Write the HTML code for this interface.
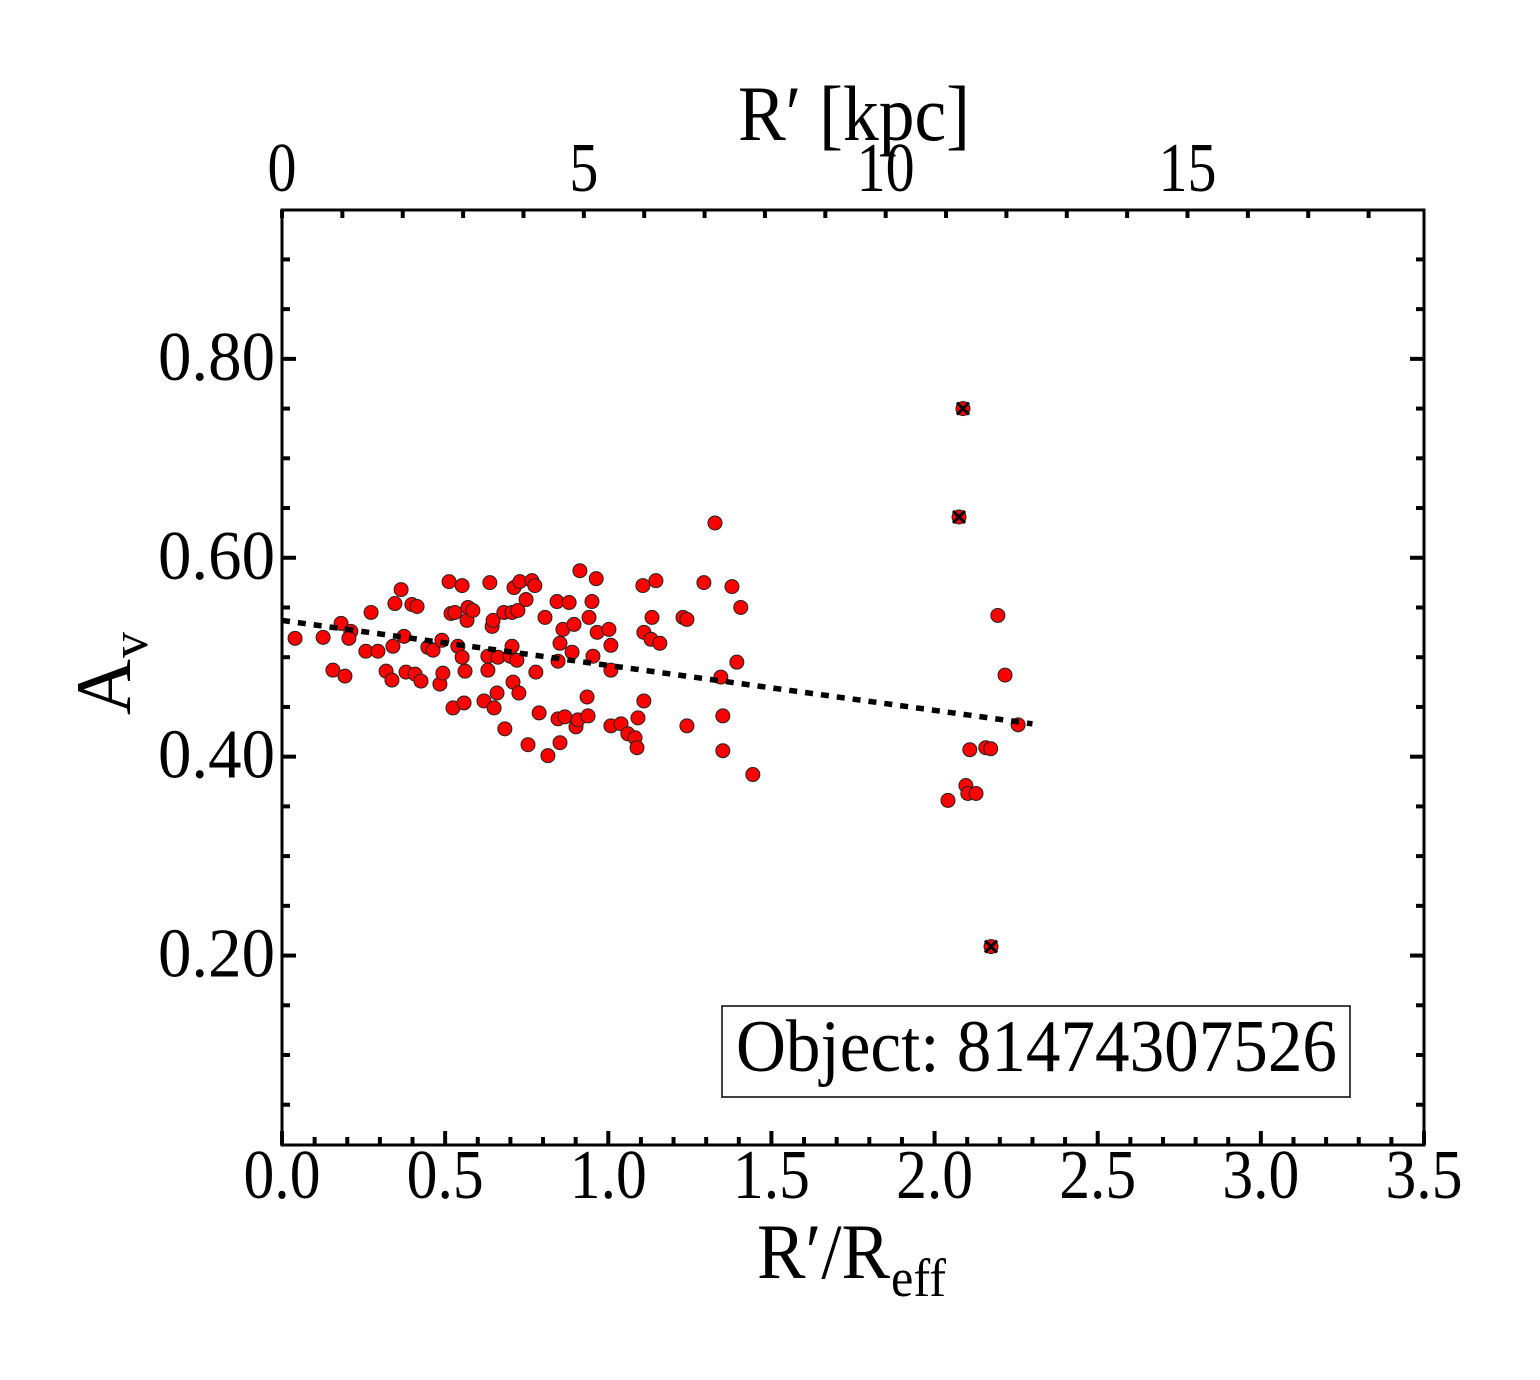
<!DOCTYPE html>
<html><head><meta charset="utf-8"><style>
html,body{margin:0;padding:0;background:#fff;}
svg text{font-family:"Liberation Serif",serif;fill:#000;}
</style></head><body>
<svg id="chart" width="1540" height="1375" viewBox="0 0 1540 1375" xmlns="http://www.w3.org/2000/svg">
<rect x="0" y="0" width="1540" height="1375" fill="#fff"/>
<g id="marks"></g>
<g id="axes"></g>
</svg>
<script>
const xs = [0.04,0.126,0.181,0.211,0.205,0.156,0.193,0.273,0.257,0.294,0.319,0.337,0.340,0.346,0.365,0.374,0.380,0.398,0.414,0.408,0.426,0.447,0.463,0.484,0.490,0.493,0.512,0.518,0.530,0.524,0.539,0.552,0.552,0.558,0.561,0.567,0.570,0.585,0.619,0.631,0.631,0.637,0.644,0.647,0.650,0.659,0.662,0.680,0.683,0.699,0.705,0.705,0.708,0.711,0.720,0.723,0.729,0.726,0.748,0.754,0.766,0.775,0.778,0.788,0.806,0.815,0.843,0.846,0.846,0.852,0.852,0.861,0.867,0.880,0.889,0.895,0.901,0.907,0.913,0.935,0.938,0.941,0.950,0.953,0.963,0.966,1.002,1.008,1.008,1.008,1.039,1.060,1.082,1.091,1.088,1.106,1.109,1.109,1.134,1.131,1.146,1.158,1.229,1.241,1.241,1.293,1.327,1.345,1.351,1.351,1.379,1.394,1.406,1.443,2.041,2.096,2.102,2.108,2.127,2.157,2.172,2.194,2.216,2.256];
const ys = [0.519,0.520,0.534,0.526,0.519,0.487,0.481,0.545,0.506,0.506,0.486,0.477,0.511,0.554,0.568,0.521,0.485,0.553,0.551,0.483,0.476,0.510,0.507,0.473,0.517,0.484,0.576,0.544,0.545,0.449,0.511,0.572,0.500,0.454,0.486,0.537,0.550,0.547,0.456,0.501,0.487,0.575,0.531,0.537,0.449,0.464,0.500,0.545,0.428,0.501,0.511,0.545,0.475,0.570,0.497,0.547,0.576,0.464,0.558,0.412,0.577,0.572,0.485,0.444,0.540,0.401,0.556,0.438,0.496,0.514,0.414,0.528,0.440,0.555,0.505,0.533,0.430,0.437,0.587,0.460,0.441,0.540,0.556,0.501,0.579,0.525,0.528,0.512,0.487,0.431,0.433,0.423,0.419,0.439,0.409,0.572,0.525,0.456,0.540,0.518,0.577,0.514,0.540,0.538,0.431,0.575,0.635,0.480,0.441,0.406,0.571,0.495,0.550,0.382,0.356,0.371,0.363,0.407,0.363,0.409,0.408,0.542,0.482,0.432];
const flaggedX = [2.087,2.075,2.173];
const flaggedY = [0.750,0.641,0.209];
const fitX = [0.0,2.30];
const fitY = [0.537,0.433];
const xTickLabels = ["0.0","0.5","1.0","1.5","2.0","2.5","3.0","3.5"];
const yTickLabels = ["0.20","0.40","0.60","0.80"];
const topTickLabels = ["0","5","10","15"];

const NS="http://www.w3.org/2000/svg";
const L=282,R=1424,T=210,B=1145;
const X0=0,X1=3.5,Y0=0.0095,Y1=0.9497;
const KPC_PER_REFF=5.405;
function sx(v){return L+(v-X0)/(X1-X0)*(R-L);}
function sy(v){return B-(v-Y0)/(Y1-Y0)*(B-T);}
function sk(k){return sx(k/KPC_PER_REFF);}
function el(tag,attrs,parent){const e=document.createElementNS(NS,tag);for(const k in attrs)e.setAttribute(k,attrs[k]);parent.appendChild(e);return e;}
const marks=document.getElementById('marks');
const axes=document.getElementById('axes');

for(let i=0;i<xs.length;i++){
  const c=el('circle',{cx:sx(xs[i]),cy:sy(ys[i]),r:7,fill:'#ff0000',stroke:'#222','stroke-width':1},marks);
  
  
}
for(let i=0;i<flaggedX.length;i++){
  const g=el('g',{},marks);
  
  
  const cx=sx(flaggedX[i]),cy=sy(flaggedY[i]);
  el('circle',{cx:cx,cy:cy,r:7,fill:'#ff0000',stroke:'#222','stroke-width':1},g);
  el('path',{d:`M${cx-6} ${cy-6}L${cx+6} ${cy+6}M${cx-6} ${cy+6}L${cx+6} ${cy-6}`,stroke:'#000','stroke-width':3},g);
}
const fit=el('line',{x1:sx(fitX[0]),y1:sy(fitY[0]),x2:sx(fitX[1]),y2:sy(fitY[1]),stroke:'#000','stroke-width':5.5,'stroke-dasharray':'8 8'},marks);



const frame=el('rect',{x:L,y:T,width:R-L,height:B-T,fill:'none',stroke:'#000','stroke-width':3},axes);



for(let i=0;i<=35;i++){
  const v=i/10,x=sx(v),len=(i%5===0)?14:8;
  el('line',{x1:x,y1:B,x2:x,y2:B-len,stroke:'#000','stroke-width':4},axes);
}
for(let k=0;k<=18;k++){
  const x=sk(k);
  el('line',{x1:x,y1:T,x2:x,y2:T+8,stroke:'#000','stroke-width':4},axes);
}
for(let i=1;i<=18;i++){
  const v=i*0.05,y=sy(v),len=(i%4===0)?14:8;
  el('line',{x1:L,y1:y,x2:L+len,y2:y,stroke:'#000','stroke-width':4},axes);
  el('line',{x1:R,y1:y,x2:R-len,y2:y,stroke:'#000','stroke-width':4},axes);
}
xTickLabels.forEach(function(s){
  const t=el('text',{x:sx(parseFloat(s)),y:1198,'font-size':70,'text-anchor':'middle',textLength:s.length*20+17,lengthAdjust:'spacingAndGlyphs'},axes);
  t.textContent=s;
  
  
});
yTickLabels.forEach(function(s){
  const t=el('text',{x:275,y:sy(parseFloat(s))+21,'font-size':70,'text-anchor':'end',textLength:117,lengthAdjust:'spacingAndGlyphs'},axes);
  t.textContent=s;
  
  
});
topTickLabels.forEach(function(s){
  const t=el('text',{x:sk(parseFloat(s)),y:191,'font-size':70,'text-anchor':'middle',textLength:s.length*29,lengthAdjust:'spacingAndGlyphs'},axes);
  t.textContent=s;
  
  
});
</script>
<svg style="position:absolute;left:0;top:0" width="1540" height="1375">
<text x="738" y="140" font-size="78" textLength="232" lengthAdjust="spacingAndGlyphs">R′ [kpc]</text>
<text x="757" y="1278" font-size="78" textLength="133" lengthAdjust="spacingAndGlyphs">R′/R</text>
<text x="891" y="1296" font-size="54" textLength="55" lengthAdjust="spacingAndGlyphs">eff</text>
<g transform="translate(130,715) rotate(-90)">
<text x="0" y="0" font-size="78" textLength="56" lengthAdjust="spacingAndGlyphs">A</text>
<text x="57" y="17" font-size="52">v</text>
</g>
<g>
<rect x="722" y="1006" width="628" height="91" fill="#fff" stroke="#000" stroke-width="1.5"/>
<text x="736" y="1071" font-size="74" textLength="601" lengthAdjust="spacingAndGlyphs">Object: 81474307526</text>
</g>
</svg>
</body></html>
